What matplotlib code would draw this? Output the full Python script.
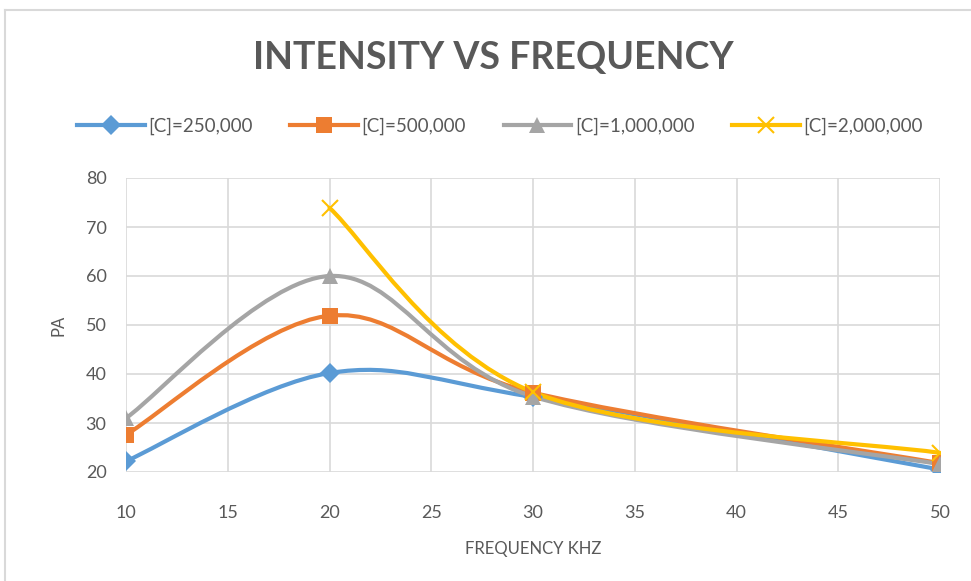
import numpy as np
import matplotlib
matplotlib.use('Agg')
from matplotlib import pyplot as plt
from matplotlib.path import Path
from matplotlib.patches import PathPatch
from matplotlib.lines import Line2D

plt.rcParams['font.family'] = ['Lato', 'DejaVu Sans']

freq = [10, 20, 30, 50]
c_250k = [22.2, 40.2, 35.3, 20.5]
c_500k = [27.6, 51.9, 36.2, 21.8]
c_1m = [31.0, 60.0, 35.4, 21.6]
freq_2m = [20, 30, 50]
c_2m = [73.9, 36.3, 23.9]

series = [
    ('[C]=250,000', freq, c_250k, '#5B9BD5', 'D', 10),
    ('[C]=500,000', freq, c_500k, '#ED7D31', 's', 12),
    ('[C]=1,000,000', freq, c_1m, '#A5A5A5', '^', 12),
    ('[C]=2,000,000', freq_2m, c_2m, '#FFC000', 'x', 11),
]

text_col = '#595959'
grid_col = '#D9D9D9'


def smooth_path(xs, ys):
    # Catmull-Rom style cubic bezier through the points
    pts = np.column_stack([xs, ys]).astype(float)
    n = len(pts)
    verts = [pts[0]]
    codes = [Path.MOVETO]
    for i in range(n - 1):
        p0 = pts[i - 1] if i > 0 else pts[i]
        p1 = pts[i]
        p2 = pts[i + 1]
        p3 = pts[i + 2] if i + 2 < n else pts[i + 1]
        c1 = p1 + (p2 - p0) / 6.0
        c2 = p2 - (p3 - p1) / 6.0
        verts += [c1, c2, p2]
        codes += [Path.CURVE4] * 3
    return Path(verts, codes)


fig = plt.figure(figsize=(9.71, 5.81), dpi=100)
ax = fig.add_axes([126 / 971, 1 - 472 / 581, (940 - 126) / 971, (472 - 178) / 581])

handles = []
for name, xs, ys, col, mk, ms in series:
    patch = PathPatch(smooth_path(xs, ys), facecolor='none', edgecolor=col,
                      lw=3, capstyle='round', joinstyle='round', zorder=3)
    ax.add_patch(patch)
    mew = 1.5 if mk == 'x' else 0
    ax.plot(xs, ys, ls='none', marker=mk, ms=ms, color=col, mew=mew, zorder=4)
    handles.append(Line2D([], [], color=col, lw=3, marker=mk, ms=ms, mew=mew, label=name))

ax.set_xlim(10, 50)
ax.set_ylim(20, 80)
ax.set_xticks(np.arange(10, 51, 5))
ax.set_yticks(np.arange(20, 81, 10))
ax.grid(True, color=grid_col, lw=1.2)
ax.set_axisbelow(True)
for s in ax.spines.values():
    s.set_visible(False)
ax.tick_params(length=0, colors=text_col, labelsize=13)
ax.tick_params(axis='x', pad=24)
ax.tick_params(axis='y', pad=14)
ax.set_xlabel('FREQUENCY KHZ', color=text_col, fontsize=12, labelpad=14)
ax.set_ylabel('PA', color=text_col, fontsize=12, labelpad=14)

fig.text(493 / 971, 1 - 58 / 581, 'INTENSITY VS FREQUENCY', ha='center', va='center',
         fontsize=27, fontweight='bold', color=text_col)

fig.legend(handles=handles, loc='center', bbox_to_anchor=(500 / 971, 1 - 126 / 581),
           ncol=4, frameon=False, fontsize=13.5, labelcolor=text_col,
           handlelength=3.6, handletextpad=0.2, columnspacing=2.0)

# chart frame
fig.add_artist(Line2D([5 / 971, 1], [1 - 10 / 581] * 2, color=grid_col, lw=1.5))
fig.add_artist(Line2D([5 / 971] * 2, [0, 1 - 10 / 581], color=grid_col, lw=1.5))

fig.savefig('out.png', dpi=100, facecolor='white')
